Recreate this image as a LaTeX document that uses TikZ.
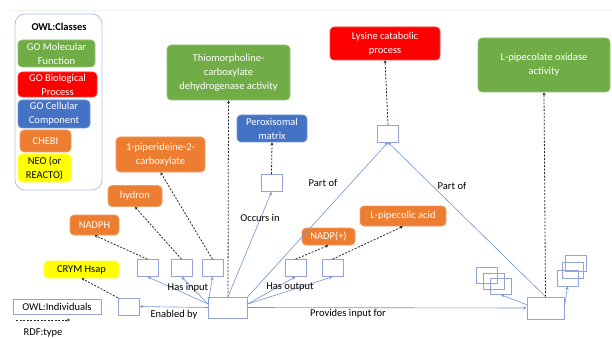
\documentclass[tikz,border=0pt]{standalone}
\usepackage{fontspec}
\setmainfont{Carlito}
\usetikzlibrary{arrows.meta}
\definecolor{gogreen}{RGB}{112,173,71}
\definecolor{gored}{RGB}{255,0,0}
\definecolor{goblue}{RGB}{68,114,196}
\definecolor{chebi}{RGB}{237,125,49}
\definecolor{neoyellow}{RGB}{255,255,0}
\definecolor{relblue}{RGB}{112,148,212}
\definecolor{indblue}{RGB}{150,162,220}
\begin{document}
\begin{tikzpicture}[x=1pt,y=-1pt,font=\fontsize{10.5}{14}\selectfont,
class node/.style={rounded corners=4pt,draw=#1!75!white,fill=#1,text=white,align=center,inner sep=1pt,line width=0.6pt},
ind node/.style={draw=indblue,fill=white,minimum width=21pt,minimum height=17pt,inner sep=0pt,line width=0.6pt},
stack node/.style={draw=indblue,minimum width=21pt,minimum height=16pt,inner sep=0pt,line width=0.6pt},
rel/.style={draw=relblue,line width=0.6pt,-{Stealth[length=3.5pt,width=3pt]}},
rdftype/.style={draw=black!85,line width=0.8pt,dash pattern=on 2pt off 1.5pt,-{Stealth[length=3pt,width=3pt]}},
lbl/.style={inner sep=0pt}]
\useasboundingbox (0,0) rectangle (612,339);
\draw[gray!12] (10,10) -- (612,10);
% legend
\begin{scope}
\draw[indblue!70,line width=0.8pt,rounded corners=10pt] (15,14) rectangle (102,190);
\node[lbl,font=\fontsize{10.5}{14}\selectfont\bfseries] (owlc) at (59,27) {OWL:Classes};
\node[class node=gogreen,minimum width=77pt,minimum height=27pt] (lmf) at (56.5,53.5) {GO Molecular\\Function};
\node[class node=gored,minimum width=79pt,minimum height=25pt] (lbp) at (57.5,84.5) {GO Biological\\Process};
\node[class node=goblue,minimum width=72pt,minimum height=28pt] (lcc) at (54,114) {GO Cellular\\Component};
\node[class node=chebi,minimum width=51pt,minimum height=22pt] (lch) at (45.5,141) {CHEBI};
\node[class node=neoyellow,text=black,minimum width=53pt,minimum height=28pt] (lneo) at (44.5,168) {NEO (or\\REACTO)};
\node[ind node,minimum width=88pt,minimum height=15pt] (lind) at (57,307) {OWL:Individuals};
\coordinate (ta) at (16,320);
\coordinate (tb) at (70,320);
\draw[rdftype] (ta) -- (tb);
\node[lbl] (lrdf) at (43,333) {RDF:type};
\end{scope}
% classes
\begin{scope}
\node[class node=gogreen,minimum width=123pt,minimum height=55pt] (thio) at (228.5,72.5) {Thiomorpholine-\\carboxylate\\dehydrogenase activity};
\node[class node=goblue,minimum width=70pt,minimum height=27pt] (perox) at (272,128.5) {Peroxisomal\\matrix};
\node[class node=gored,minimum width=110pt,minimum height=33pt] (lys) at (385,43.5) {Lysine catabolic\\process};
\node[class node=gogreen,minimum width=132pt,minimum height=54pt] (lpox) at (544,65) {L-pipecolate oxidase\\activity};
\node[class node=chebi,minimum width=89pt,minimum height=35pt] (pip) at (160.5,154.5) {1-piperideine-2-\\carboxylate};
\node[class node=chebi,minimum width=54pt,minimum height=21pt] (hyd) at (135,196) {hydron};
\node[class node=chebi,minimum width=49pt,minimum height=20pt] (nadph) at (94.5,225) {NADPH};
\node[class node=neoyellow,text=black,minimum width=75pt,minimum height=17pt] (crym) at (81.5,269.5) {CRYM Hsap};
\node[class node=chebi,minimum width=53pt,minimum height=17pt] (nadp) at (328.5,236.5) {NADP(+)};
\node[class node=chebi,minimum width=86pt,minimum height=20pt] (lpa) at (403,216) {L-pipecolic acid};
\end{scope}
% individuals
\begin{scope}
\node[ind node] (crymi) at (128.5,306.5) {};
\node[ind node] (nadphi) at (147.5,268) {};
\node[ind node] (hydi) at (181.5,268) {};
\node[ind node] (pipi) at (212.5,268) {};
\node[ind node,minimum width=39pt,minimum height=21pt] (mf1) at (228,307.5) {};
\node[ind node] (peroxi) at (271.5,183) {};
\node[ind node] (nadpi) at (295.5,268) {};
\node[ind node] (lpai) at (332.5,268) {};
\node[ind node] (lysi) at (388,133.5) {};
\node[ind node,minimum width=37pt,minimum height=22pt] (mf2) at (545.5,308) {};
\node[stack node] (sl1) at (487,275.5) {};
\node[stack node] (sl2) at (494,281) {};
\node[stack node] (sl3) at (501,286.5) {};
\node[stack node] (sr1) at (576,263.5) {};
\node[stack node] (sr2) at (572.5,270.5) {};
\node[stack node] (sr3) at (567.5,278) {};
\end{scope}
% rdf:type
\begin{scope}
\draw[rdftype] (crymi.north west) -- (crym.south);
\draw[rdftype] (nadphi.north) -- (nadph.south);
\draw[rdftype] (hydi.north) -- (hyd.south);
\draw[rdftype] (pipi.north) -- (pip.south);
\draw[rdftype] (mf1.north) -- (thio.south);
\draw[rdftype] (peroxi.north) -- (perox.south);
\draw[rdftype] (nadpi.north) -- (nadp.south);
\draw[rdftype] (lpai.north) -- (lpa.south);
\draw[rdftype] (lysi.north) -- (lys.south);
\draw[rdftype] (mf2.north) -- (lpox.south);
\end{scope}
% relations
\begin{scope}
\draw[rel] (mf1.west) -- (crymi.east);
\draw[rel] (mf1.170) -- (nadphi.south);
\draw[rel] (mf1.170) -- (hydi.south);
\draw[rel] (mf1.170) -- (pipi.south);
\draw[rel] (mf1.north) -- (peroxi.south);
\draw[rel] (mf1.north east) -- (lysi.south);
\draw[rel] (mf1.10) -- (nadpi.south);
\draw[rel] (mf1.10) -- (lpai.south);
\draw[rel] (mf1.east) -- (mf2.west);
\draw[rel] (mf2.north) -- (lysi.south);
\draw[rel] (mf2.170) -- (sl3.south);
\draw[rel] (mf2.east) -- (sr3.south);
\node[lbl] (enb) at (174,315) {Enabled by};
\node[lbl] (hin) at (188,288) {Has input};
\node[lbl] (occ) at (260,218) {Occurs in};
\node[lbl] (pa1) at (323,183) {Part of};
\node[lbl] (pa2) at (452,186) {Part of};
\node[lbl] (hout) at (290,287) {Has output};
\node[lbl] (prov) at (348,314) {Provides input for};
\end{scope}
\end{tikzpicture}
\end{document}
